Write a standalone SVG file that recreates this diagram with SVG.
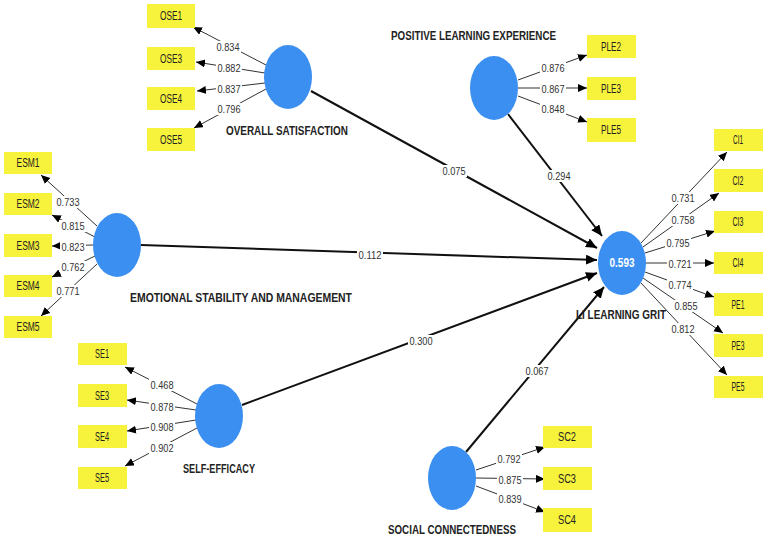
<svg xmlns="http://www.w3.org/2000/svg" width="767" height="539" viewBox="0 0 767 539">
<style>
.bg{fill:#ffffff}
.lv{fill:#3b8ff0}
.box{fill:#f7f23c}
.lb{fill:#ffffff}
.bt{font-family:"Liberation Sans",Arial,sans-serif;font-size:12px;fill:#222;text-anchor:middle}
.nt{font-family:"Liberation Sans",Arial,sans-serif;font-size:11.5px;fill:#333;text-anchor:middle}
.ht{font-family:"Liberation Sans",Arial,sans-serif;font-size:13px;font-weight:bold;fill:#222}
.r2{font-family:"Liberation Sans",Arial,sans-serif;font-size:12px;font-weight:bold;fill:#fff;text-anchor:middle}
.ld{stroke:#333;stroke-width:1;fill:none;marker-end:url(#a1)}
.pth{stroke:#111;stroke-width:2;fill:none;marker-end:url(#a2)}
</style>
<defs>
<marker id="a1" markerUnits="userSpaceOnUse" markerWidth="10" markerHeight="10" refX="9" refY="4" orient="auto"><path d="M0,0 L9,4 L0,8 Z" fill="#000"/></marker>
<marker id="a2" markerUnits="userSpaceOnUse" markerWidth="12" markerHeight="12" refX="11" refY="5" orient="auto"><path d="M0,0 L11,5 L0,10 Z" fill="#000"/></marker>
</defs>
<rect class="bg" x="0" y="0" width="767" height="539"/>
<g id="connectors">
<line class="pth" x1="311" y1="91" x2="597" y2="248"/>
<line class="pth" x1="508" y1="114" x2="602" y2="236"/>
<line class="pth" x1="141" y1="245" x2="597" y2="260"/>
<line class="pth" x1="242" y1="405" x2="597" y2="273"/>
<line class="pth" x1="466" y1="452" x2="604" y2="287"/>
<line class="ld" x1="266" y1="65" x2="193" y2="27"/>
<line class="ld" x1="265" y1="73" x2="196" y2="62"/>
<line class="ld" x1="265" y1="83" x2="197" y2="91"/>
<line class="ld" x1="266" y1="89" x2="194" y2="128"/>
<line class="ld" x1="518" y1="80" x2="587" y2="55"/>
<line class="ld" x1="518" y1="88" x2="587" y2="88"/>
<line class="ld" x1="518" y1="96" x2="587" y2="122"/>
<line class="ld" x1="97" y1="226" x2="41" y2="175"/>
<line class="ld" x1="95" y1="237" x2="52" y2="215"/>
<line class="ld" x1="93" y1="245" x2="52" y2="246"/>
<line class="ld" x1="95" y1="256" x2="52" y2="277"/>
<line class="ld" x1="97" y1="264" x2="41" y2="316"/>
<line class="ld" x1="641" y1="243" x2="727" y2="152"/>
<line class="ld" x1="643" y1="247" x2="719" y2="193"/>
<line class="ld" x1="645" y1="253" x2="715" y2="231"/>
<line class="ld" x1="646" y1="263" x2="714" y2="263"/>
<line class="ld" x1="645" y1="272" x2="714" y2="297"/>
<line class="ld" x1="643" y1="278" x2="723" y2="333"/>
<line class="ld" x1="641" y1="283" x2="727" y2="375"/>
<line class="ld" x1="197" y1="404" x2="125" y2="367"/>
<line class="ld" x1="196" y1="410" x2="127" y2="400"/>
<line class="ld" x1="196" y1="420" x2="127" y2="431"/>
<line class="ld" x1="197" y1="428" x2="125" y2="466"/>
<line class="ld" x1="476" y1="470" x2="545" y2="447"/>
<line class="ld" x1="476" y1="478" x2="545" y2="479"/>
<line class="ld" x1="476" y1="486" x2="545" y2="512"/>
<rect class="lb" x="441" y="165" width="26" height="12"/><text class="nt" x="454" y="175" textLength="23" lengthAdjust="spacingAndGlyphs">0.075</text>
<rect class="lb" x="546" y="170" width="26" height="12"/><text class="nt" x="559" y="180" textLength="23" lengthAdjust="spacingAndGlyphs">0.294</text>
<rect class="lb" x="357" y="249" width="26" height="12"/><text class="nt" x="370" y="259" textLength="23" lengthAdjust="spacingAndGlyphs">0.112</text>
<rect class="lb" x="408" y="335" width="26" height="12"/><text class="nt" x="421" y="345" textLength="23" lengthAdjust="spacingAndGlyphs">0.300</text>
<rect class="lb" x="524" y="365" width="26" height="12"/><text class="nt" x="537" y="375" textLength="23" lengthAdjust="spacingAndGlyphs">0.067</text>
<rect class="lb" x="215" y="41" width="26" height="12"/><text class="nt" x="228" y="51" textLength="23" lengthAdjust="spacingAndGlyphs">0.834</text>
<rect class="lb" x="216" y="62" width="26" height="12"/><text class="nt" x="229" y="72" textLength="23" lengthAdjust="spacingAndGlyphs">0.882</text>
<rect class="lb" x="216" y="83" width="26" height="12"/><text class="nt" x="229" y="93" textLength="23" lengthAdjust="spacingAndGlyphs">0.837</text>
<rect class="lb" x="216" y="103" width="26" height="12"/><text class="nt" x="229" y="113" textLength="23" lengthAdjust="spacingAndGlyphs">0.796</text>
<rect class="lb" x="540" y="62" width="26" height="12"/><text class="nt" x="553" y="72" textLength="23" lengthAdjust="spacingAndGlyphs">0.876</text>
<rect class="lb" x="540" y="83" width="26" height="12"/><text class="nt" x="553" y="93" textLength="23" lengthAdjust="spacingAndGlyphs">0.867</text>
<rect class="lb" x="540" y="103" width="26" height="12"/><text class="nt" x="553" y="113" textLength="23" lengthAdjust="spacingAndGlyphs">0.848</text>
<rect class="lb" x="55" y="196" width="26" height="12"/><text class="nt" x="68" y="206" textLength="23" lengthAdjust="spacingAndGlyphs">0.733</text>
<rect class="lb" x="60" y="220" width="26" height="12"/><text class="nt" x="73" y="230" textLength="23" lengthAdjust="spacingAndGlyphs">0.815</text>
<rect class="lb" x="60" y="241" width="26" height="12"/><text class="nt" x="73" y="251" textLength="23" lengthAdjust="spacingAndGlyphs">0.823</text>
<rect class="lb" x="60" y="261" width="26" height="12"/><text class="nt" x="73" y="271" textLength="23" lengthAdjust="spacingAndGlyphs">0.762</text>
<rect class="lb" x="55" y="285" width="26" height="12"/><text class="nt" x="68" y="295" textLength="23" lengthAdjust="spacingAndGlyphs">0.771</text>
<rect class="lb" x="670" y="192" width="26" height="12"/><text class="nt" x="683" y="202" textLength="23" lengthAdjust="spacingAndGlyphs">0.731</text>
<rect class="lb" x="670" y="214" width="26" height="12"/><text class="nt" x="683" y="224" textLength="23" lengthAdjust="spacingAndGlyphs">0.758</text>
<rect class="lb" x="665" y="237" width="26" height="12"/><text class="nt" x="678" y="247" textLength="23" lengthAdjust="spacingAndGlyphs">0.795</text>
<rect class="lb" x="667" y="258" width="26" height="12"/><text class="nt" x="680" y="268" textLength="23" lengthAdjust="spacingAndGlyphs">0.721</text>
<rect class="lb" x="667" y="279" width="26" height="12"/><text class="nt" x="680" y="289" textLength="23" lengthAdjust="spacingAndGlyphs">0.774</text>
<rect class="lb" x="673" y="300" width="26" height="12"/><text class="nt" x="686" y="310" textLength="23" lengthAdjust="spacingAndGlyphs">0.855</text>
<rect class="lb" x="670" y="323" width="26" height="12"/><text class="nt" x="683" y="333" textLength="23" lengthAdjust="spacingAndGlyphs">0.812</text>
<rect class="lb" x="149" y="379" width="26" height="12"/><text class="nt" x="162" y="389" textLength="23" lengthAdjust="spacingAndGlyphs">0.468</text>
<rect class="lb" x="149" y="401" width="26" height="12"/><text class="nt" x="162" y="411" textLength="23" lengthAdjust="spacingAndGlyphs">0.878</text>
<rect class="lb" x="149" y="421" width="26" height="12"/><text class="nt" x="162" y="431" textLength="23" lengthAdjust="spacingAndGlyphs">0.908</text>
<rect class="lb" x="149" y="442" width="26" height="12"/><text class="nt" x="162" y="452" textLength="23" lengthAdjust="spacingAndGlyphs">0.902</text>
<rect class="lb" x="496" y="453" width="26" height="12"/><text class="nt" x="509" y="463" textLength="23" lengthAdjust="spacingAndGlyphs">0.792</text>
<rect class="lb" x="497" y="474" width="26" height="12"/><text class="nt" x="510" y="484" textLength="23" lengthAdjust="spacingAndGlyphs">0.875</text>
<rect class="lb" x="497" y="493" width="26" height="12"/><text class="nt" x="510" y="503" textLength="23" lengthAdjust="spacingAndGlyphs">0.839</text>
</g>
<g id="ose">
<ellipse class="lv" cx="288" cy="77" rx="24" ry="32"/>
<text class="ht" x="226" y="135" textLength="122" lengthAdjust="spacingAndGlyphs">OVERALL SATISFACTION</text>
</g>
<g id="ple">
<ellipse class="lv" cx="494" cy="88" rx="24" ry="32"/>
<text class="ht" x="391" y="40" textLength="165" lengthAdjust="spacingAndGlyphs">POSITIVE LEARNING EXPERIENCE</text>
</g>
<g id="esm">
<ellipse class="lv" cx="117" cy="245" rx="24" ry="32"/>
<text class="ht" x="130" y="302" textLength="222" lengthAdjust="spacingAndGlyphs">EMOTIONAL STABILITY AND MANAGEMENT</text>
</g>
<g id="llg">
<ellipse class="lv" cx="622" cy="263" rx="24" ry="32"/>
<text class="r2" x="622" y="267" textLength="25" lengthAdjust="spacingAndGlyphs">0.593</text>
<text class="ht" transform="translate(576,319) scale(1,1.44)" x="0" y="0" style="font-size:9px" textLength="90" lengthAdjust="spacingAndGlyphs">LI LEARNING GRIT</text>
</g>
<g id="se">
<ellipse class="lv" cx="219" cy="416" rx="24" ry="32"/>
<text class="ht" x="183" y="473" textLength="72" lengthAdjust="spacingAndGlyphs">SELF-EFFICACY</text>
</g>
<g id="sc">
<ellipse class="lv" cx="452" cy="478" rx="24" ry="32"/>
<text class="ht" x="388" y="534" textLength="128" lengthAdjust="spacingAndGlyphs">SOCIAL CONNECTEDNESS</text>
</g>
<g id="OSE1"><rect class="box" x="147" y="4" width="48" height="24"/><text class="bt" x="171" y="20" textLength="22" lengthAdjust="spacingAndGlyphs">OSE1</text></g>
<g id="OSE3"><rect class="box" x="147" y="47" width="48" height="23"/><text class="bt" x="171" y="63" textLength="22" lengthAdjust="spacingAndGlyphs">OSE3</text></g>
<g id="OSE4"><rect class="box" x="147" y="87" width="48" height="23"/><text class="bt" x="171" y="103" textLength="22" lengthAdjust="spacingAndGlyphs">OSE4</text></g>
<g id="OSE5"><rect class="box" x="147" y="128" width="48" height="23"/><text class="bt" x="171" y="144" textLength="22" lengthAdjust="spacingAndGlyphs">OSE5</text></g>
<g id="PLE2"><rect class="box" x="587" y="35" width="49" height="23"/><text class="bt" x="611" y="51" textLength="20" lengthAdjust="spacingAndGlyphs">PLE2</text></g>
<g id="PLE3"><rect class="box" x="587" y="77" width="49" height="23"/><text class="bt" x="611" y="93" textLength="20" lengthAdjust="spacingAndGlyphs">PLE3</text></g>
<g id="PLE5"><rect class="box" x="587" y="118" width="49" height="24"/><text class="bt" x="611" y="134" textLength="20" lengthAdjust="spacingAndGlyphs">PLE5</text></g>
<g id="ESM1"><rect class="box" x="4" y="152" width="48" height="22"/><text class="bt" x="28" y="167" textLength="23" lengthAdjust="spacingAndGlyphs">ESM1</text></g>
<g id="ESM2"><rect class="box" x="4" y="193" width="48" height="22"/><text class="bt" x="28" y="208" textLength="23" lengthAdjust="spacingAndGlyphs">ESM2</text></g>
<g id="ESM3"><rect class="box" x="4" y="234" width="48" height="23"/><text class="bt" x="28" y="250" textLength="23" lengthAdjust="spacingAndGlyphs">ESM3</text></g>
<g id="ESM4"><rect class="box" x="4" y="275" width="48" height="22"/><text class="bt" x="28" y="290" textLength="23" lengthAdjust="spacingAndGlyphs">ESM4</text></g>
<g id="ESM5"><rect class="box" x="4" y="316" width="48" height="22"/><text class="bt" x="28" y="331" textLength="23" lengthAdjust="spacingAndGlyphs">ESM5</text></g>
<g id="CI1"><rect class="box" x="714" y="129" width="49" height="22"/><text class="bt" x="738" y="144" textLength="10" lengthAdjust="spacingAndGlyphs">CI1</text></g>
<g id="CI2"><rect class="box" x="714" y="169" width="49" height="23"/><text class="bt" x="738" y="185" textLength="11" lengthAdjust="spacingAndGlyphs">CI2</text></g>
<g id="CI3"><rect class="box" x="714" y="211" width="49" height="22"/><text class="bt" x="738" y="226" textLength="11" lengthAdjust="spacingAndGlyphs">CI3</text></g>
<g id="CI4"><rect class="box" x="714" y="252" width="49" height="22"/><text class="bt" x="738" y="267" textLength="11" lengthAdjust="spacingAndGlyphs">CI4</text></g>
<g id="PE1"><rect class="box" x="714" y="293" width="49" height="23"/><text class="bt" x="738" y="309" textLength="13" lengthAdjust="spacingAndGlyphs">PE1</text></g>
<g id="PE3"><rect class="box" x="714" y="334" width="49" height="23"/><text class="bt" x="738" y="350" textLength="13" lengthAdjust="spacingAndGlyphs">PE3</text></g>
<g id="PE5"><rect class="box" x="714" y="376" width="49" height="22"/><text class="bt" x="738" y="391" textLength="13" lengthAdjust="spacingAndGlyphs">PE5</text></g>
<g id="SE1"><rect class="box" x="78" y="343" width="49" height="22"/><text class="bt" x="102" y="358" textLength="14" lengthAdjust="spacingAndGlyphs">SE1</text></g>
<g id="SE3"><rect class="box" x="78" y="384" width="49" height="23"/><text class="bt" x="102" y="400" textLength="14" lengthAdjust="spacingAndGlyphs">SE3</text></g>
<g id="SE4"><rect class="box" x="78" y="425" width="49" height="23"/><text class="bt" x="102" y="441" textLength="14" lengthAdjust="spacingAndGlyphs">SE4</text></g>
<g id="SE5"><rect class="box" x="78" y="467" width="49" height="22"/><text class="bt" x="102" y="482" textLength="14" lengthAdjust="spacingAndGlyphs">SE5</text></g>
<g id="SC2"><rect class="box" x="543" y="426" width="49" height="22"/><text class="bt" x="567" y="441" textLength="18" lengthAdjust="spacingAndGlyphs">SC2</text></g>
<g id="SC3"><rect class="box" x="543" y="467" width="49" height="23"/><text class="bt" x="567" y="483" textLength="18" lengthAdjust="spacingAndGlyphs">SC3</text></g>
<g id="SC4"><rect class="box" x="543" y="508" width="49" height="24"/><text class="bt" x="567" y="524" textLength="18" lengthAdjust="spacingAndGlyphs">SC4</text></g>
</svg>
